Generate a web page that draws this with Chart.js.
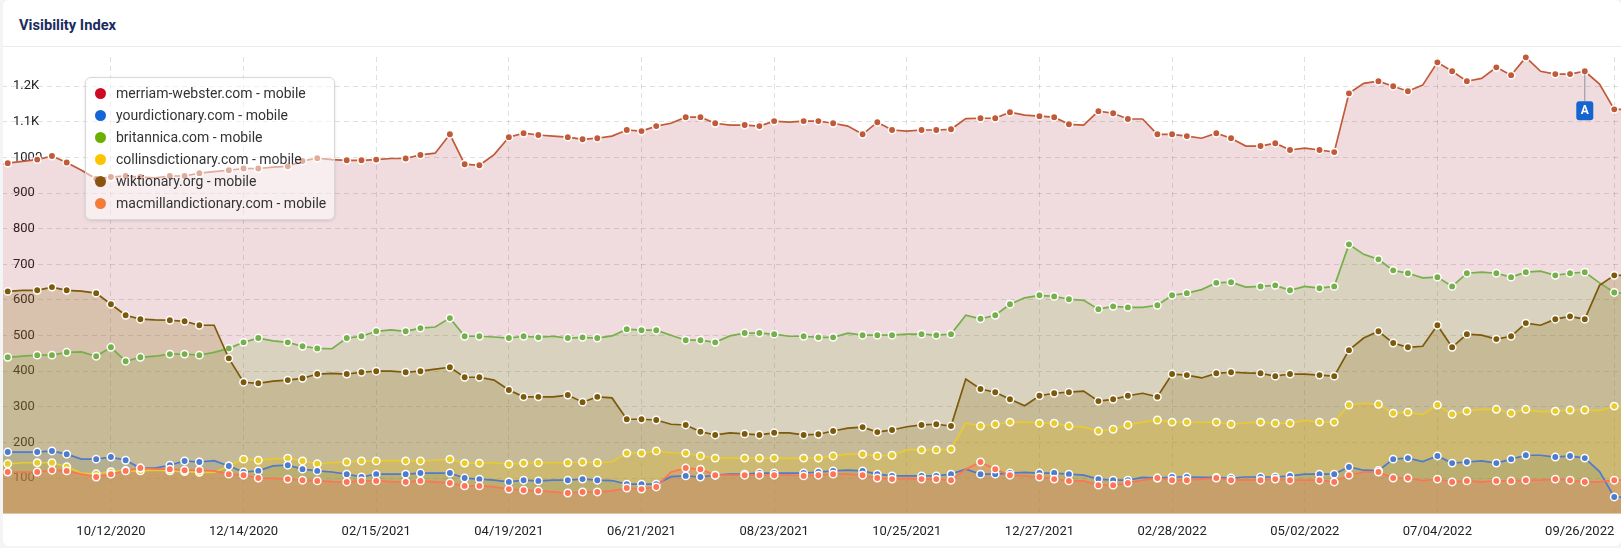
<!DOCTYPE html>
<html>
<head>
<meta charset="utf-8">
<title>Visibility Index</title>
<script src="https://cdn.jsdelivr.net/npm/chart.js@4"></script>
<style>
  html, body { margin: 0; padding: 0; background: #f3f4f6; }
  body { width: 1621px; height: 548px; overflow: hidden; position: relative; font-family: Roboto, sans-serif; }
  #card { position: absolute; left: 3px; top: 0; width: 1618px; height: 546px; background: #fff; border-radius: 6px; overflow: hidden; }
  #title { position: absolute; left: 16px; top: 17px; font-size: 14.7px; line-height: 16px; font-weight: 700; color: #1a2c5f; }
  #rule { position: absolute; left: 0; right: 0; top: 46px; height: 1px; background: #ececec; }
  #newChart { position: absolute; left: -9.74px; top: 0; }
  #legend { position: absolute; left: 82px; top: 77px; width: 250px; height: 143px; box-sizing: border-box; background: rgba(255,255,255,.5); border: 1px solid #d8d8d8; border-radius: 6px; box-shadow: 0 1px 3px rgba(0,0,0,.12); }
  #legend div { position: absolute; left: 30px; font-size: 14px; line-height: 22px; color: #333; white-space: nowrap; }
  #legend i { position: absolute; left: -21.5px; top: 5.5px; width: 11px; height: 11px; border-radius: 50%; }
</style>
</head>
<body>
<div id="card">
  <div id="title">Visibility Index</div>
  <div id="rule"></div>
  <canvas id="newChart" width="1636" height="548"></canvas>
  <div id="legend"></div>
</div>
<script>
// x labels that get a gridline
const tickLabels = ["10/12/2020", "12/14/2020", "02/15/2021", "04/19/2021", "06/21/2021", "08/23/2021",
    "10/25/2021", "12/27/2021", "02/28/2022", "05/02/2022", "07/04/2022", "09/26/2022"];
const lastTickLabel = "09/26/2022";
const flagWeek = "09/12/2022";

// weeks whose vertex has no dot on it
const noMarkerWeeks = [0, 2, 6, 11, 15, 19, 23, 27, 30, 34, 38, 42, 46, 50, 54, 58, 62, 66, 70, 74, 78, 82, 85, 89, 93, 97, 101, 105, 109, 111];

const seriesNames = ["merriam-webster.com - mobile", "yourdictionary.com - mobile", "britannica.com - mobile",
    "collinsdictionary.com - mobile", "wiktionary.org - mobile", "macmillandictionary.com - mobile"];
const legendColors = ["#cc0a24", "#1565d8", "#69b000", "#ffc400", "#8a5312", "#f47c38"];

const merriam = [975, 984, 989, 994, 1004, 986, 964, 940, 945, 948, 945, 943, 948, 948, 956, 960, 964, 969, 969, 973, 975, 990, 998, 994, 992, 992, 994, 997,
    997, 1007, 1012, 1065, 981, 978, 1008, 1057, 1068, 1063, 1060, 1057, 1051, 1054, 1060, 1077, 1074, 1088, 1096, 1113, 1113, 1096, 1091, 1091, 1088, 1102, 1099,
    1102, 1102, 1096, 1088, 1065, 1099, 1077, 1074, 1077, 1077, 1079, 1109, 1110, 1110, 1127, 1119, 1116, 1113, 1093, 1091, 1130, 1124, 1108, 1108, 1065, 1065, 1060,
    1054, 1068, 1054, 1032, 1032, 1040, 1021, 1026, 1021, 1015, 1180, 1208, 1214, 1200, 1186, 1203, 1267, 1242, 1214, 1222, 1253, 1231, 1281, 1242, 1234, 1234, 1242, 1206, 1135, 1135];

const britannica = [440, 439, 442, 445, 445, 453, 454, 442, 467, 428, 439, 442, 448, 448, 445, 453, 464, 481, 493, 485, 481, 470, 464, 463, 493, 498, 512, 516,
    512, 521, 524, 549, 498, 498, 496, 493, 498, 495, 498, 493, 495, 493, 499, 518, 515, 515, 501, 487, 487, 481, 499, 507, 507, 504, 498,
    498, 495, 495, 507, 501, 501, 501, 504, 504, 501, 504, 557, 547, 557, 588, 606, 613, 610, 602, 599, 574, 582, 579, 579, 585, 613, 619,
    629, 648, 650, 636, 638, 641, 627, 638, 633, 638, 756, 728, 714, 683, 675, 662, 664, 638, 675, 678, 675, 664, 678, 681, 669, 675, 678, 648, 621, 618];

const wiktionary = [624, 624, 627, 627, 636, 627, 625, 619, 588, 557, 546, 544, 543, 540, 529, 529, 436, 369, 366, 372, 375, 380, 392, 394, 392, 397, 400, 400,
    397, 400, 406, 411, 383, 383, 375, 347, 328, 328, 328, 333, 313, 328, 325, 265, 265, 263, 251, 249, 230, 221, 227, 224, 221, 227, 227,
    221, 223, 232, 240, 243, 229, 235, 244, 249, 251, 246, 378, 350, 341, 321, 303, 331, 338, 341, 344, 316, 321, 331, 338, 328, 392, 389,
    381, 394, 397, 395, 394, 386, 392, 392, 389, 386, 459, 493, 512, 479, 467, 470, 529, 467, 504, 501, 490, 498, 535, 529, 546, 554, 546, 641, 669, 669];

const collins = [140, 140, 143, 143, 143, 132, 114, 112, 118, 121, 120, 122, 120, 118, 116, 116, 134, 153, 150, 154, 156, 148, 140, 143, 145, 148, 148, 149,
    148, 148, 150, 153, 142, 142, 143, 139, 142, 143, 143, 143, 145, 143, 145, 170, 170, 176, 171, 170, 162, 156, 156, 156, 156, 156, 155,
    156, 156, 162, 167, 167, 162, 164, 179, 179, 179, 181, 254, 246, 251, 257, 257, 254, 254, 246, 243, 232, 237, 249, 257, 263, 257, 257,
    256, 257, 251, 255, 257, 254, 254, 262, 257, 257, 305, 310, 307, 282, 285, 278, 305, 279, 288, 293, 293, 282, 293, 286, 288, 291, 291, 289, 302, 300];

const yourdictionary = [173, 173, 173, 173, 176, 167, 153, 153, 159, 150, 128, 128, 136, 148, 145, 149, 134, 117, 120, 134, 136, 125, 120, 117, 111, 103, 111, 111,
    111, 114, 114, 114, 100, 97, 94, 89, 94, 92, 94, 94, 97, 94, 93, 83, 83, 83, 104, 106, 103, 108, 111, 111, 114, 114, 114,
    114, 117, 120, 122, 120, 111, 106, 106, 106, 106, 111, 125, 111, 111, 114, 116, 114, 114, 111, 108, 97, 94, 94, 102, 100, 103, 103,
    102, 102, 100, 103, 103, 103, 106, 111, 111, 111, 131, 122, 121, 153, 156, 146, 162, 142, 145, 148, 142, 153, 164, 164, 159, 162, 156, 118, 47, 45];

const macmillan = [117, 117, 117, 117, 122, 120, 111, 103, 111, 120, 128, 125, 125, 122, 122, 120, 111, 108, 100, 99, 97, 94, 92, 90, 89, 92, 92, 90,
    89, 92, 89, 86, 78, 78, 75, 69, 66, 64, 61, 58, 61, 61, 64, 72, 69, 75, 117, 128, 125, 108, 108, 108, 108, 108, 108,
    106, 108, 111, 111, 108, 100, 97, 99, 97, 97, 94, 125, 145, 125, 108, 106, 103, 97, 92, 92, 80, 80, 86, 94, 100, 94, 94,
    97, 100, 94, 95, 94, 97, 94, 94, 94, 89, 108, 117, 117, 100, 100, 93, 97, 89, 92, 89, 92, 92, 94, 94, 97, 94, 89, 89, 94, 94];

// one label per week, starting one week left of the visible area
let weeks = [];
for (let i = 0; i < merriam.length; i++) {
    const d = new Date(Date.UTC(2020, 7, 17 + i * 7));
    const mm = String(d.getUTCMonth() + 1).padStart(2, "0");
    const dd = String(d.getUTCDate()).padStart(2, "0");
    weeks.push(`${mm}/${dd}/${d.getUTCFullYear()}`);
}

function makeSeries(label, data, line, fill, order) {
    return {
        label: label,
        data: data,
        order: order,
        borderColor: line,
        backgroundColor: fill,
        fill: "origin",
        tension: 0,
        borderWidth: 1.7,
        clip: false,
        pointBackgroundColor: line,
        pointBorderColor: "#fff",
        pointBorderWidth: 1.5,
        pointRadius: (c) => (noMarkerWeeks.includes(c.dataIndex) ? 0 : 3.7),
    };
}

// flag "A" on the merriam line and the last x label, which sits left of its gridline
const extras = {
    id: "extras",
    afterDraw(chart) {
        const { ctx, scales } = chart;
        const i = weeks.indexOf(flagWeek);
        const x = scales.x.getPixelForValue(i);
        const y = scales.y.getPixelForValue(merriam[i]);
        ctx.save();
        ctx.strokeStyle = "#8b93a0";
        ctx.lineWidth = 1;
        ctx.beginPath();
        ctx.moveTo(x, y + 3);
        ctx.lineTo(x, y + 30);
        ctx.stroke();
        ctx.fillStyle = "#1565d0";
        ctx.beginPath();
        ctx.roundRect(x - 8.5, y + 30, 17, 19, 3);
        ctx.fill();
        ctx.fillStyle = "#fff";
        ctx.font = "700 12px Roboto";
        ctx.textAlign = "center";
        ctx.textBaseline = "middle";
        ctx.fillText("A", x, y + 40);

        ctx.fillStyle = "#222";
        ctx.font = "13px Roboto";
        ctx.textAlign = "right";
        ctx.fillText(lastTickLabel, scales.x.getPixelForValue(weeks.indexOf(lastTickLabel)), 531.5);
        ctx.restore();
    },
};

const displayChart = new Chart(document.getElementById("newChart"), {
    type: "line",
    plugins: [extras],
    data: {
        labels: weeks,
        datasets: [
            makeSeries(seriesNames[0], merriam, "#c05a38", "rgba(155, 22, 42, 0.15)", 6),
            makeSeries(seriesNames[2], britannica, "#76b04a", "rgba(120, 170, 63, 0.2)", 5),
            makeSeries(seriesNames[4], wiktionary, "#7d5a0b", "rgba(144, 114, 27, 0.25)", 4),
            makeSeries(seriesNames[3], collins, "#e8cb2c", "rgba(226, 178, 6, 0.25)", 3),
            makeSeries(seriesNames[1], yourdictionary, "#4d7bce", "rgba(60, 100, 110, 0.13)", 2),
            makeSeries(seriesNames[5], macmillan, "#fe7556", "rgba(224, 125, 95, 0.3)", 1),
        ],
    },
    options: {
        responsive: false,
        animation: false,
        layout: { padding: { top: 57, bottom: 0, left: 0, right: 0 } },
        plugins: {
            legend: { display: false },
            tooltip: { enabled: false },
            // all areas first, so the lines and dots stay untinted
            filler: { drawTime: "beforeDatasetsDraw" },
        },
        scales: {
            x: {
                offset: false,
                afterFit: (s) => { s.height = 34.33; },
                border: { display: false, dash: [5, 4] },
                grid: { color: "rgba(0, 0, 0, 0.12)", drawTicks: false },
                ticks: {
                    autoSkip: false,
                    maxRotation: 0,
                    padding: 10,
                    color: "#222",
                    font: { family: "Roboto", size: 13 },
                    callback: function (value) {
                        const label = this.getLabelForValue(value);
                        if (!tickLabels.includes(label)) {
                            return null;
                        }
                        return label === lastTickLabel ? "" : label;
                    },
                },
            },
            y: {
                min: 0,
                max: 1282,
                afterFit: (s) => { s.width = 0; },
                border: { display: false, dash: [5, 4] },
                grid: { color: "rgba(0, 0, 0, 0.12)", drawTicks: false },
                ticks: {
                    mirror: true,
                    padding: 20,
                    stepSize: 100,
                    includeBounds: false,
                    color: "#222",
                    font: { family: "Roboto", size: 13 },
                    callback: (value) => {
                        if (value === 0) {
                            return null;
                        }
                        return value > 1000 ? (value / 1000).toFixed(1) + "K" : String(value);
                    },
                },
            },
        },
    },
});

// legend box sits over the chart
const legendBox = document.getElementById("legend");
seriesNames.forEach((name, i) => {
    const row = document.createElement("div");
    row.style.top = 4 + i * 22 + "px";
    row.innerHTML = `<i style="background:${legendColors[i]}"></i>${name}`;
    legendBox.appendChild(row);
});
</script>
</body>
</html>
